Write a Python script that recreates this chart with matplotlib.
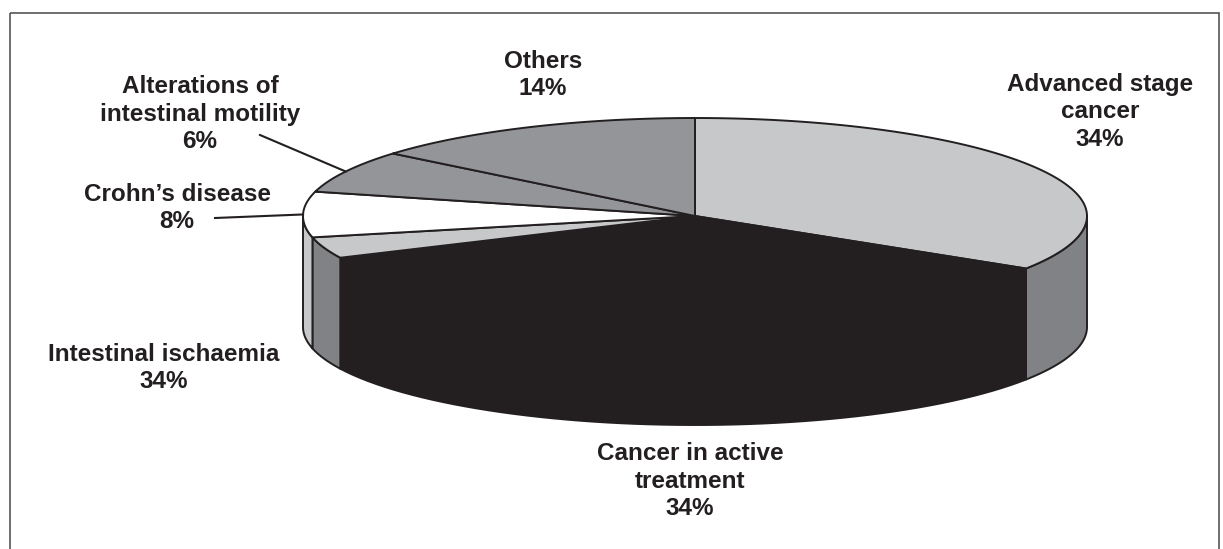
import numpy as np
import matplotlib.pyplot as plt
from matplotlib.patches import Polygon, Rectangle

# slices, clockwise from 12 o'clock
labels = ["Advanced stage\ncancer\n34%",
          "Cancer in active\ntreatment\n34%",
          "Intestinal ischaemia\n34%",
          "Crohn\u2019s disease\n8%",
          "Alterations of\nintestinal motility\n6%",
          "Others\n14%"]
shares = [34, 34, 3.5, 7.5, 7, 14]
top_colors = ["#c7c8ca", "#231f20", "#c7c8ca", "#ffffff", "#939598", "#939598"]
side_colors = ["#808285", "#231f20", "#808285", "#c7c8ca", "#808285", "#808285"]

# label placement (pixel coords, y down) and leader lines
label_pos = [(1100, 112), (690, 481), (164, 368), (177, 208), (200, 114), (543, 75)]
leader = [None, None, None, (215, 218), (260, 135), None]

cx, cy = 695, 216      # centre of top face
rx, ry = 392, 98       # semi axes
depth = 111

fig = plt.figure(figsize=(12.23, 5.49), dpi=100)
ax = fig.add_axes([0, 0, 1, 1])
ax.set_xlim(0, 1223)
ax.set_ylim(549, 0)
ax.axis("off")

ax.add_patch(Rectangle((10, 13), 1209, 560, fill=False, ec="#555555", lw=1.2))

frac = np.array(shares) / sum(shares)
cum = np.concatenate([[0], np.cumsum(frac)])
starts = 90 - cum[:-1] * 360
ends = 90 - cum[1:] * 360

def pt(t):
    r = np.radians(t)
    return cx + rx * np.cos(r), cy - ry * np.sin(r)

# front walls
for i in range(len(shares)):
    lo = max(ends[i], -180)
    hi = min(starts[i], 0)
    if lo >= hi:
        continue
    t = np.linspace(hi, lo, 60)
    xs, ys = pt(t)
    verts = list(zip(xs, ys)) + list(zip(xs[::-1], ys[::-1] + depth))
    ax.add_patch(Polygon(verts, closed=True, fc=side_colors[i], ec="#231f20", lw=1.4, joinstyle="round"))

# top faces
for i in range(len(shares)):
    t = np.linspace(starts[i], ends[i], 100)
    xs, ys = pt(t)
    verts = [(cx, cy)] + list(zip(xs, ys))
    ax.add_patch(Polygon(verts, closed=True, fc=top_colors[i], ec="#231f20", lw=1.4, joinstyle="round"))

for i, lab in enumerate(labels):
    x, y = label_pos[i]
    ax.text(x, y, lab, ha="center", va="center", fontsize=17.5, fontweight="bold",
            family="Liberation Sans", color="#231f20", linespacing=1.25)
    if leader[i] is not None:
        mid = (starts[i] + ends[i]) / 2
        ex, ey = pt(mid)
        ax.plot([leader[i][0], ex], [leader[i][1], ey], color="#231f20", lw=1.5)

fig.savefig("out.png", dpi=100)
